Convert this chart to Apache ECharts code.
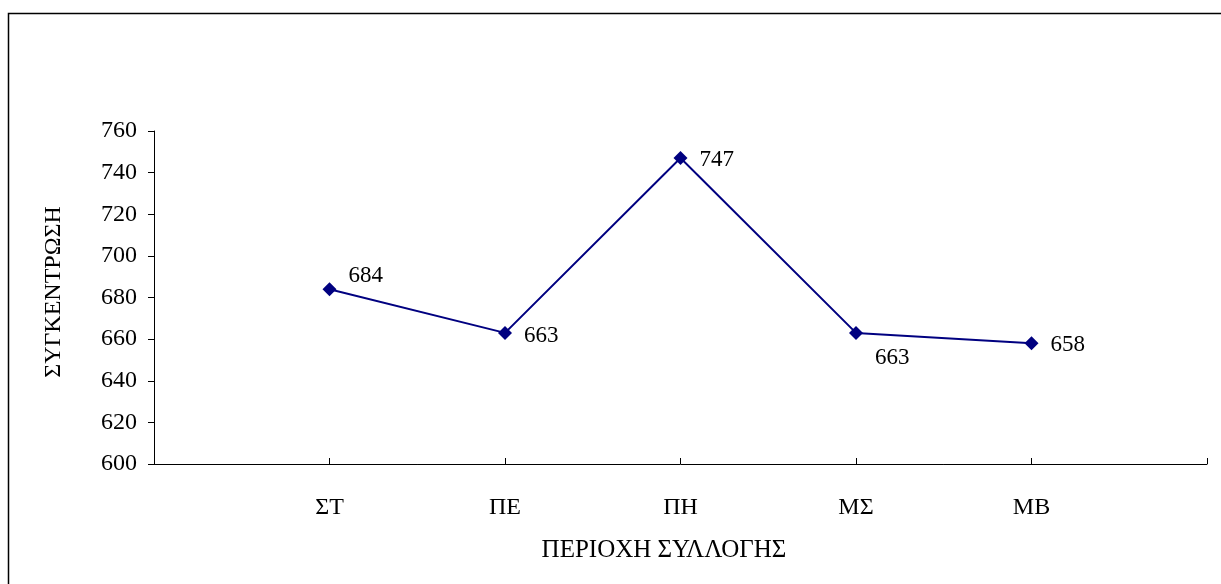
<!DOCTYPE html>
<html>
<head>
<meta charset="utf-8">
<script src="https://cdn.jsdelivr.net/npm/echarts@6/dist/echarts.min.js"></script>
<style>
  html, body { margin: 0; padding: 0; background: #fff; }
  #chart { width: 1221px; height: 584px; }
</style>
</head>
<body>
<div id="chart"></div>
<script>
// Sampling areas; blank slots at both ends leave the axis padding
const categories = ['', 'ΣΤ', 'ΠΕ', 'ΠΗ', 'ΜΣ', 'ΜΒ', ''];
const concentration = [null, 684, 663, 747, 663, 658, null];
// Label placement per point (dx, dy from the marker)
const labelOffsets = [null, [0, -13], [0, 3], [0, 2], [0, 25], [0, 2]];
const yMin = 600, yMax = 760, yStep = 20;

const FONT = '"Liberation Serif", "DejaVu Serif", serif';

const chart = echarts.init(document.getElementById('chart'), null, { renderer: 'canvas' });

const seriesData = concentration.map((v, i) => {
  if (v === null) return { value: '-' };
  const off = labelOffsets[i];
  return { value: v, label: { offset: off } };
});

chart.setOption({
  animation: false,
  backgroundColor: '#ffffff',
  grid: { left: 154, right: 14, top: 131, bottom: 120, containLabel: false },
  xAxis: {
    type: 'category',
    data: categories,
    boundaryGap: false,
    axisLine: { lineStyle: { color: '#000', width: 1 } },
    axisTick: { inside: true, length: 6, alignWithLabel: true, interval: 0, lineStyle: { color: '#000' } },
    axisLabel: { interval: 0, margin: 32, color: '#000', fontFamily: FONT, fontSize: 24 },
    splitLine: { show: false }
  },
  yAxis: {
    type: 'value',
    min: yMin, max: yMax, interval: yStep,
    axisLine: { show: true, lineStyle: { color: '#000', width: 1 } },
    axisTick: { show: true, length: 6, lineStyle: { color: '#000' } },
    axisLabel: { margin: 17, color: '#000', fontFamily: FONT, fontSize: 24 },
    splitLine: { show: false }
  },
  series: [{
    type: 'line',
    data: seriesData,
    connectNulls: false,
    symbol: 'diamond',
    symbolSize: 14,
    itemStyle: { color: '#000080' },
    lineStyle: { color: '#000080', width: 2 },
    label: {
      show: true,
      position: 'right',
      distance: 12,
      color: '#000',
      fontFamily: FONT,
      fontSize: 23
    }
  }],
  graphic: [
    {
      type: 'rect',
      shape: { x: 8.5, y: 13.5, width: 1300, height: 700 },
      style: { fill: 'none', stroke: '#000', lineWidth: 1.5 },
      silent: true
    },
    {
      type: 'text',
      x: 664, y: 550,
      style: {
        text: 'ΠΕΡΙΟΧΗ ΣΥΛΛΟΓΗΣ',
        fontFamily: FONT, fontSize: 25, fill: '#000',
        align: 'center', verticalAlign: 'middle'
      }
    },
    {
      type: 'text',
      x: 54, y: 292,
      rotation: Math.PI / 2,
      style: {
        text: 'ΣΥΓΚΕΝΤΡΩΣΗ',
        fontFamily: FONT, fontSize: 24, fill: '#000',
        align: 'center', verticalAlign: 'middle'
      }
    }
  ]
});
</script>
</body>
</html>
